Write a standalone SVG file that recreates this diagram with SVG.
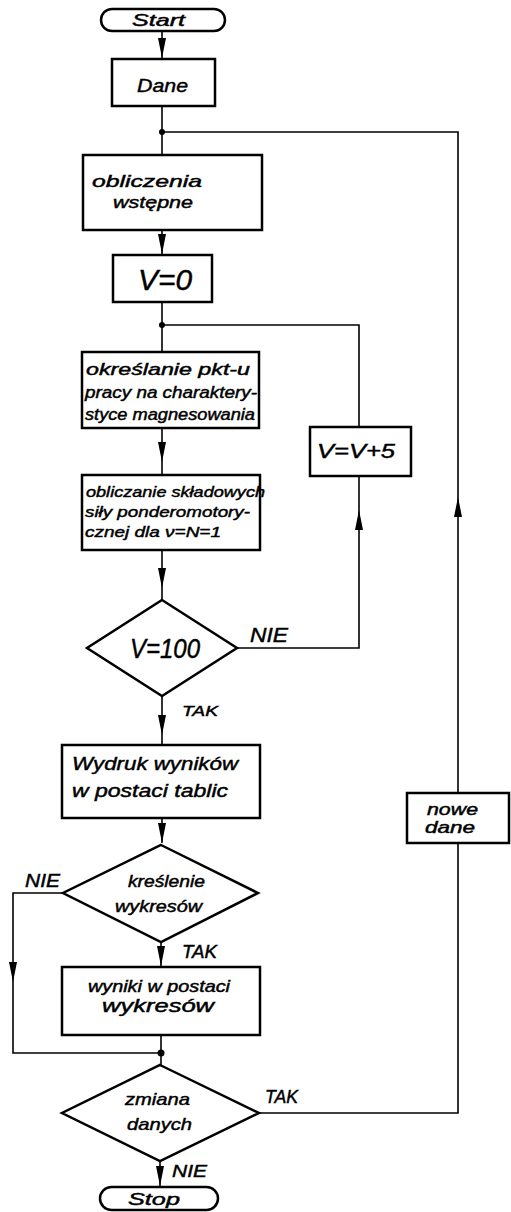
<svg xmlns="http://www.w3.org/2000/svg" width="511" height="1212" viewBox="0 0 511 1212">
<style>
.box{fill:#fff;stroke:#000;stroke-width:2.5}
.ln{fill:none;stroke:#000;stroke-width:1.6}
.t{font-family:"Liberation Sans",Arial,sans-serif;font-style:italic;fill:#000;stroke:#000;stroke-width:0.45}
</style>
<defs>
<marker id="ah" markerUnits="userSpaceOnUse" markerWidth="22" markerHeight="9" refX="20" refY="4" orient="auto">
<path d="M0,0 L20,4 L0,8 z" fill="#000"/>
</marker>
</defs>
<rect width="511" height="1212" fill="#fff"/>
<g id="connectors">
<path class="ln" d="M162,31 V58" marker-end="url(#ah)"/>
<path class="ln" d="M162,106 V155"/>
<path class="ln" d="M458,793 V497" marker-end="url(#ah)"/>
<path class="ln" d="M458,497 V132 H162"/>
<path class="ln" d="M259,1113 H458 V843"/>
<path class="ln" d="M162,230 V254" marker-end="url(#ah)"/>
<path class="ln" d="M162,302 V352"/>
<path class="ln" d="M359,427 V325 H162"/>
<path class="ln" d="M162,428 V462" marker-end="url(#ah)"/>
<path class="ln" d="M162,462 V475"/>
<path class="ln" d="M162,550 V588" marker-end="url(#ah)"/>
<path class="ln" d="M162,588 V600"/>
<path class="ln" d="M237,648 H359 V510" marker-end="url(#ah)"/>
<path class="ln" d="M359,510 V476"/>
<path class="ln" d="M162,696 V735" marker-end="url(#ah)"/>
<path class="ln" d="M162,735 V745"/>
<path class="ln" d="M162,818 V843" marker-end="url(#ah)"/>
<path class="ln" d="M63,893 H13 V982" marker-end="url(#ah)"/>
<path class="ln" d="M13,982 V1053 H161"/>
<path class="ln" d="M161,942 V966" marker-end="url(#ah)"/>
<path class="ln" d="M161,1035 V1065"/>
<path class="ln" d="M160,1161 V1186" marker-end="url(#ah)"/>
<circle cx="162" cy="132" r="3"/>
<circle cx="162" cy="325" r="3"/>
<circle cx="161" cy="1053" r="3.5"/>
</g>
<g id="start">
<rect class="box" x="101" y="9" width="124" height="22" rx="11"/>
<text class="t" x="132" y="26" font-size="16" textLength="53" lengthAdjust="spacingAndGlyphs">Start</text>
</g>
<g id="dane">
<rect class="box" x="112" y="59" width="103" height="47"/>
<text class="t" x="137" y="92" font-size="19" textLength="51" lengthAdjust="spacingAndGlyphs">Dane</text>
</g>
<g id="obliczenia">
<rect class="box" x="83" y="155" width="179" height="75"/>
<text class="t" x="92" y="187" font-size="17" textLength="110" lengthAdjust="spacingAndGlyphs">obliczenia</text>
<text class="t" x="113" y="208" font-size="17" textLength="80" lengthAdjust="spacingAndGlyphs">wstępne</text>
</g>
<g id="v0">
<rect class="box" x="113" y="255" width="99" height="47"/>
<text class="t" x="138" y="290" font-size="30" textLength="54" lengthAdjust="spacingAndGlyphs">V=0</text>
</g>
<g id="okreslanie">
<rect class="box" x="82" y="352" width="177" height="76"/>
<text class="t" x="86" y="375" font-size="16" textLength="164" lengthAdjust="spacingAndGlyphs">określanie pkt-u</text>
<text class="t" x="85" y="398" font-size="16" textLength="172" lengthAdjust="spacingAndGlyphs">pracy na charaktery-</text>
<text class="t" x="85" y="420" font-size="16" textLength="170" lengthAdjust="spacingAndGlyphs">styce magnesowania</text>
</g>
<g id="obliczanie">
<rect class="box" x="82" y="475" width="178" height="75"/>
<text class="t" x="86" y="497" font-size="15" textLength="179" lengthAdjust="spacingAndGlyphs">obliczanie składowych</text>
<text class="t" x="85" y="517" font-size="15" textLength="165" lengthAdjust="spacingAndGlyphs">siły ponderomotory-</text>
<text class="t" x="85" y="537" font-size="15" textLength="136" lengthAdjust="spacingAndGlyphs">cznej dla ν=N=1</text>
</g>
<g id="vv5">
<rect class="box" x="310" y="427" width="101" height="49"/>
<text class="t" x="317" y="458" font-size="21" textLength="78" lengthAdjust="spacingAndGlyphs">V=V+5</text>
</g>
<g id="v100">
<polygon class="box" points="162,600 237,648 162,696 87,648"/>
<text class="t" x="130" y="658" font-size="27" textLength="70" lengthAdjust="spacingAndGlyphs">V=100</text>
<text class="t" x="250" y="642" font-size="20" textLength="38" lengthAdjust="spacingAndGlyphs">NIE</text>
<text class="t" x="182" y="716" font-size="15" textLength="36" lengthAdjust="spacingAndGlyphs">TAK</text>
</g>
<g id="wydruk">
<rect class="box" x="62" y="745" width="198" height="73"/>
<text class="t" x="72" y="770" font-size="18" textLength="166" lengthAdjust="spacingAndGlyphs">Wydruk wyników</text>
<text class="t" x="72" y="797" font-size="18" textLength="156" lengthAdjust="spacingAndGlyphs">w postaci tablic</text>
</g>
<g id="kreslenie">
<polygon class="box" points="161,845 258,893 161,942 63,893"/>
<text class="t" x="128" y="887" font-size="16" textLength="77" lengthAdjust="spacingAndGlyphs">kreślenie</text>
<text class="t" x="115" y="912" font-size="16" textLength="87" lengthAdjust="spacingAndGlyphs">wykresów</text>
<text class="t" x="25" y="887" font-size="18" textLength="35" lengthAdjust="spacingAndGlyphs">NIE</text>
<text class="t" x="182" y="958" font-size="18" textLength="35" lengthAdjust="spacingAndGlyphs">TAK</text>
</g>
<g id="wyniki">
<rect class="box" x="62" y="967" width="198" height="68"/>
<text class="t" x="88" y="992" font-size="16" textLength="142" lengthAdjust="spacingAndGlyphs">wyniki w postaci</text>
<text class="t" x="102" y="1012" font-size="18" textLength="112" lengthAdjust="spacingAndGlyphs">wykresów</text>
</g>
<g id="nowedane">
<rect class="box" x="407" y="793" width="102" height="50"/>
<text class="t" x="427" y="815" font-size="16" textLength="51" lengthAdjust="spacingAndGlyphs">nowe</text>
<text class="t" x="425" y="833" font-size="16" textLength="50" lengthAdjust="spacingAndGlyphs">dane</text>
</g>
<g id="zmiana">
<polygon class="box" points="160,1065 259,1113 160,1161 62,1113"/>
<text class="t" x="125" y="1105" font-size="17" textLength="65" lengthAdjust="spacingAndGlyphs">zmiana</text>
<text class="t" x="127" y="1130" font-size="17" textLength="65" lengthAdjust="spacingAndGlyphs">danych</text>
<text class="t" x="265" y="1103" font-size="18" textLength="33" lengthAdjust="spacingAndGlyphs">TAK</text>
<text class="t" x="172" y="1177" font-size="17" textLength="35" lengthAdjust="spacingAndGlyphs">NIE</text>
</g>
<g id="stop">
<rect class="box" x="100" y="1187" width="118" height="23" rx="11.5"/>
<text class="t" x="128" y="1205" font-size="17" textLength="52" lengthAdjust="spacingAndGlyphs">Stop</text>
</g>
</svg>
